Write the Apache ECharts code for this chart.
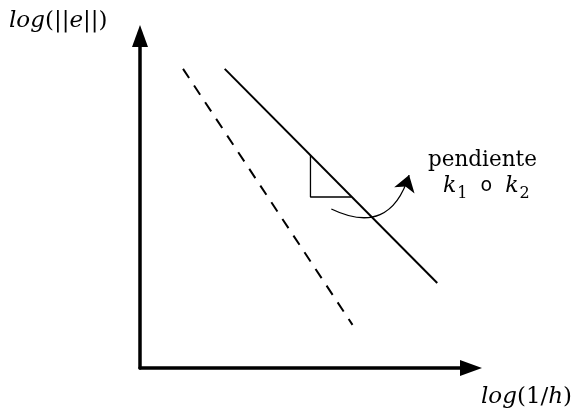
<!DOCTYPE html>
<html><head><meta charset="utf-8">
<script src="https://cdn.jsdelivr.net/npm/echarts@6/dist/echarts.min.js"></script>
<style>html,body{margin:0;padding:0;background:#fff}#c{width:575px;height:420px}</style>
</head><body><div id="c"></div>
<script>
// Schematic data (axis units 0..10 on both axes)
const solidLine = [[2.56, 9.01], [8.98, 2.56]];
const dashedLine = [[1.30, 9.01], [6.42, 1.30]];
const slopeTriangle = [[5.15, 6.42], [5.15, 5.15], [6.39, 5.15]];
const curvedArrow = [[5.78, 4.79], [8.13, 5.81]];
const yAxisLabel = ['log', '(||', 'e', '||)'];
const xAxisLabel = ['log', '(1/', 'h', ')'];
const slopeLabel = 'pendiente';
const slopeSymbols = ['k', '1', 'o', 'k', '2'];

const serif = '"DejaVu Serif", "Liberation Serif", serif';
const chart = echarts.init(document.getElementById('c'));
const rich = {
  i: { fontFamily: serif, fontStyle: 'italic', fontSize: 23, fill: '#000', color: '#000' },
  u: { fontFamily: serif, fontSize: 23, fill: '#000', color: '#000' },
  p: { fontFamily: serif, fontSize: 21.5, fill: '#000', color: '#000' },
  k: { fontFamily: serif, fontStyle: 'italic', fontSize: 22, fill: '#000', color: '#000' },
  s: { fontFamily: serif, fontSize: 16, fill: '#000', color: '#000', verticalAlign: 'bottom', padding: [16, 0, 0, 1] },
  o: { fontFamily: '"DejaVu Sans", sans-serif', fontSize: 19, fill: '#000', color: '#000', padding: [0, 13, 0, 13] }
};
chart.setOption({
  animation: false,
  grid: { left: 140, top: 36, right: 104, bottom: 52 },
  xAxis: {
    type: 'value', min: 0, max: 10,
    axisLine: { show: true, onZero: false, symbol: ['none', 'triangle'], symbolSize: [16, 22],
      lineStyle: { color: '#000', width: 3.5 } },
    axisTick: { show: false }, axisLabel: { show: false }, splitLine: { show: false }
  },
  yAxis: {
    type: 'value', min: 0, max: 10,
    axisLine: { show: true, onZero: false, symbol: ['none', 'triangle'], symbolSize: [16, 22],
      lineStyle: { color: '#000', width: 3.5 } },
    axisTick: { show: false }, axisLabel: { show: false }, splitLine: { show: false }
  },
  series: [
    { type: 'line', data: solidLine, showSymbol: false, silent: true,
      lineStyle: { color: '#000', width: 2 } },
    { type: 'line', data: dashedLine, showSymbol: false, silent: true,
      lineStyle: { color: '#000', width: 2, type: [11, 9] } },
    { type: 'line', data: slopeTriangle, showSymbol: false, silent: true,
      lineStyle: { color: '#000', width: 1.3 } },
    { type: 'lines', coordinateSystem: 'cartesian2d', silent: true,
      symbol: ['none', 'arrow'], symbolSize: 16,
      lineStyle: { color: '#000', width: 1.3, curveness: -0.58, opacity: 1 },
      data: [{ coords: curvedArrow }] }
  ],
  graphic: [
    { type: 'text', left: 9, top: 10, style: {
      text: '{i|' + yAxisLabel[0] + '}{u|' + yAxisLabel[1] + '}{i|' + yAxisLabel[2] + '}{u|' + yAxisLabel[3] + '}', rich: rich } },
    { type: 'text', left: 481, top: 386, style: {
      text: '{i|' + xAxisLabel[0] + '}{u|' + xAxisLabel[1] + '}{i|' + xAxisLabel[2] + '}{u|' + xAxisLabel[3] + '}', rich: rich } },
    { type: 'text', left: 428, top: 149, style: { text: '{p|' + slopeLabel + '}', rich: rich } },
    { type: 'text', left: 443, top: 175, style: {
      text: '{k|' + slopeSymbols[0] + '}{s|' + slopeSymbols[1] + '}{o|' + slopeSymbols[2] + '}{k|' + slopeSymbols[3] + '}{s|' + slopeSymbols[4] + '}', rich: rich } }
  ]
});
</script></body></html>
